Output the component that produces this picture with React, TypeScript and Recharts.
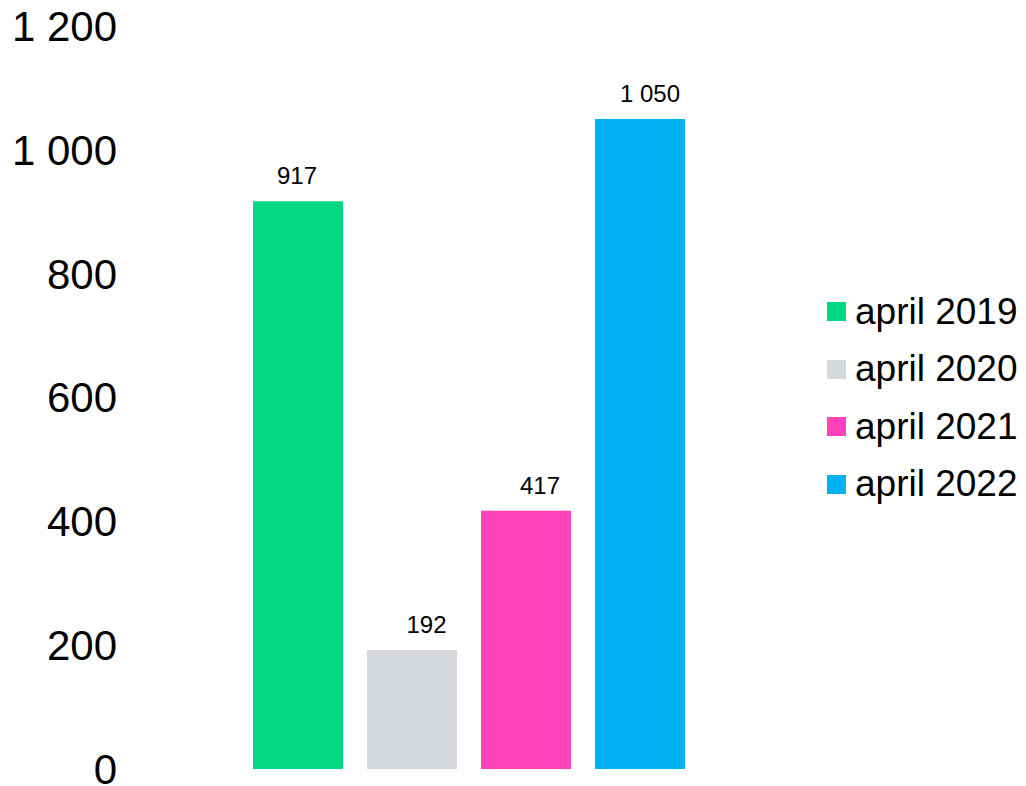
import { Bar, BarChart, LabelList, Legend, XAxis, YAxis } from "recharts";

const FONT = "'Liberation Sans', Arial, sans-serif";

const SERIES_NAMES = ["april 2019", "april 2020", "april 2021", "april 2022"];
const SERIES_KEYS = ["y2019", "y2020", "y2021", "y2022"];
const SERIES_VALUES = [917, 192, 417, 1050];
const Y_TICKS = [0, 200, 400, 600, 800, 1000, 1200];

const COLORS = ["#00D982", "#D5D8DC", "#FF42BA", "#00B0F0"];
// small horizontal nudges of the value labels, as placed in the original
const LABEL_DX = [-1, 14.5, 14, 10];

const row: Record<string, number | string> = { name: "" };
SERIES_KEYS.forEach((k, i) => {
  row[k] = SERIES_VALUES[i];
});
const data = [row];

const fmt = (v: number | string) => String(v).replace(/\B(?=(\d{3})+(?!\d))/g, " ");

function valueLabel(dx: number) {
  return (props: any) => {
    const { x, y, width, value } = props;
    return (
      <text
        x={Number(x) + Number(width) / 2 + dx}
        y={Number(y) - 17}
        textAnchor="middle"
        fontSize={24}
        fontFamily={FONT}
        fill="#000"
      >
        {fmt(value)}
      </text>
    );
  };
}

function LegendList(props: any) {
  const items = props.payload ?? [];
  return (
    <div style={{ fontFamily: FONT, fontSize: 37, color: "#000" }}>
      {items.map((it: any) => (
        <div
          key={it.value}
          style={{ height: 57.5, display: "flex", alignItems: "center", whiteSpace: "nowrap" }}
        >
          <span
            style={{ width: 19, height: 19, background: it.color, marginRight: 9, flex: "none" }}
          />
          <span>{it.value}</span>
        </div>
      ))}
    </div>
  );
}

export default function App() {
  return (
    <div style={{ position: "absolute", left: 0, top: 0, width: 1026, height: 786, background: "#fff" }}>
      <BarChart
        width={1026}
        height={786}
        data={data}
        margin={{ top: 26, right: 214, bottom: 17, left: 0 }}
        barSize={90}
        barGap={24}
      >
        <XAxis dataKey="name" hide />
        <YAxis
          width={125}
          domain={[0, 1200]}
          ticks={Y_TICKS}
          interval={0}
          axisLine={false}
          tickLine={false}
          tickFormatter={fmt}
          tick={{ fontSize: 42, fontFamily: FONT, fill: "#000" }}
        />
        <Legend
          layout="vertical"
          align="center"
          verticalAlign="middle"
          content={<LegendList />}
          wrapperStyle={{ left: 827, top: 282.75, width: 199 }}
        />
        {SERIES_KEYS.map((k, i) => (
          <Bar key={k} dataKey={k} name={SERIES_NAMES[i]} fill={COLORS[i]} isAnimationActive={false}>
            <LabelList dataKey={k} content={valueLabel(LABEL_DX[i])} />
          </Bar>
        ))}
      </BarChart>
    </div>
  );
}
